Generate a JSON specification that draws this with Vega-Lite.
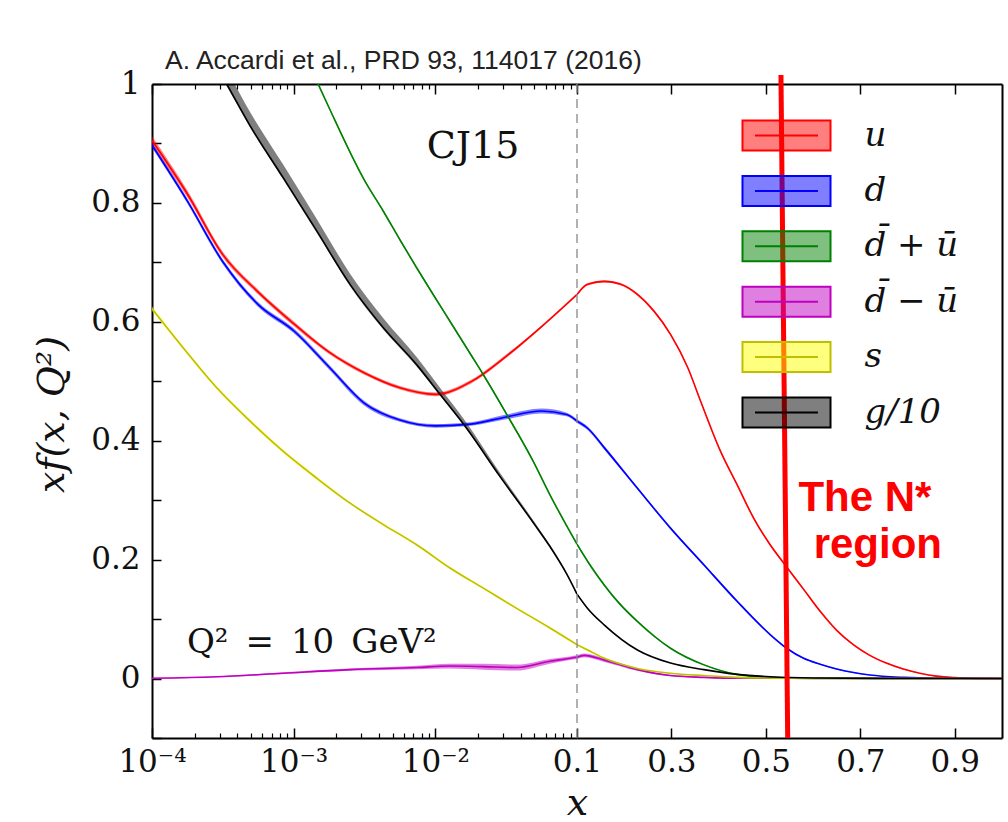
{
  "$schema": "https://vega.github.io/schema/vega-lite/v6.json",
  "background": "white",
  "padding": {"left": 33, "top": 47, "right": 4, "bottom": 0},
  "spacing": 0,
  "bounds": "flush",
  "resolve": {"scale": {"x": "independent", "y": "independent", "fill": "independent", "stroke": "independent"}},
  "datasets": {
    "L": [
      {"p":"u","x":0.0001,"y":0.905,"lo":0.898,"hi":0.912},
      {"p":"u","x":0.0001778,"y":0.815,"lo":0.809,"hi":0.821},
      {"p":"u","x":0.0003162,"y":0.713,"lo":0.708,"hi":0.718},
      {"p":"u","x":0.0005623,"y":0.65,"lo":0.646,"hi":0.654},
      {"p":"u","x":0.001,"y":0.597,"lo":0.593,"hi":0.601},
      {"p":"u","x":0.001778,"y":0.549,"lo":0.546,"hi":0.552},
      {"p":"u","x":0.003162,"y":0.514,"lo":0.511,"hi":0.517},
      {"p":"u","x":0.005623,"y":0.489,"lo":0.486,"hi":0.492},
      {"p":"u","x":0.01,"y":0.478,"lo":0.475,"hi":0.481},
      {"p":"u","x":0.01778,"y":0.499,"lo":0.496,"hi":0.502},
      {"p":"u","x":0.03162,"y":0.542,"lo":0.539,"hi":0.545},
      {"p":"u","x":0.05623,"y":0.592,"lo":0.59,"hi":0.594},
      {"p":"u","x":0.1,"y":0.646,"lo":0.644,"hi":0.648},
      {"p":"d","x":0.0001,"y":0.897,"lo":0.893,"hi":0.901},
      {"p":"d","x":0.0001778,"y":0.803,"lo":0.799,"hi":0.807},
      {"p":"d","x":0.0003162,"y":0.701,"lo":0.697,"hi":0.705},
      {"p":"d","x":0.0005623,"y":0.629,"lo":0.625,"hi":0.633},
      {"p":"d","x":0.001,"y":0.585,"lo":0.581,"hi":0.589},
      {"p":"d","x":0.001778,"y":0.524,"lo":0.52,"hi":0.528},
      {"p":"d","x":0.003162,"y":0.463,"lo":0.459,"hi":0.467},
      {"p":"d","x":0.005623,"y":0.435,"lo":0.432,"hi":0.438},
      {"p":"d","x":0.01,"y":0.425,"lo":0.422,"hi":0.428},
      {"p":"d","x":0.01778,"y":0.428,"lo":0.425,"hi":0.431},
      {"p":"d","x":0.03162,"y":0.44,"lo":0.436,"hi":0.444},
      {"p":"d","x":0.05623,"y":0.45,"lo":0.446,"hi":0.454},
      {"p":"d","x":0.08453,"y":0.444,"lo":0.441,"hi":0.447},
      {"p":"d","x":0.1,"y":0.433,"lo":0.43,"hi":0.436},
      {"p":"d\u0304 + \u016b","x":0.001,"y":1.09,"lo":1.088,"hi":1.092},
      {"p":"d\u0304 + \u016b","x":0.001455,"y":1.005,"lo":1.003,"hi":1.007},
      {"p":"d\u0304 + \u016b","x":0.001778,"y":0.96,"lo":0.958,"hi":0.962},
      {"p":"d\u0304 + \u016b","x":0.003162,"y":0.838,"lo":0.836,"hi":0.84},
      {"p":"d\u0304 + \u016b","x":0.004295,"y":0.786,"lo":0.784,"hi":0.788},
      {"p":"d\u0304 + \u016b","x":0.005623,"y":0.738,"lo":0.736,"hi":0.74},
      {"p":"d\u0304 + \u016b","x":0.007379,"y":0.691,"lo":0.689,"hi":0.693},
      {"p":"d\u0304 + \u016b","x":0.01,"y":0.64,"lo":0.638,"hi":0.642},
      {"p":"d\u0304 + \u016b","x":0.01268,"y":0.601,"lo":0.599,"hi":0.603},
      {"p":"d\u0304 + \u016b","x":0.01778,"y":0.545,"lo":0.543,"hi":0.547},
      {"p":"d\u0304 + \u016b","x":0.02183,"y":0.511,"lo":0.509,"hi":0.513},
      {"p":"d\u0304 + \u016b","x":0.03162,"y":0.446,"lo":0.444,"hi":0.448},
      {"p":"d\u0304 + \u016b","x":0.0492,"y":0.365,"lo":0.363,"hi":0.367},
      {"p":"d\u0304 + \u016b","x":0.06442,"y":0.309,"lo":0.307,"hi":0.311},
      {"p":"d\u0304 + \u016b","x":0.1,"y":0.226,"lo":0.224,"hi":0.228},
      {"p":"d\u0304 \u2212 \u016b","x":0.0001,"y":0.0005,"lo":-0.0005,"hi":0.0015},
      {"p":"d\u0304 \u2212 \u016b","x":0.0002864,"y":0.003,"lo":0.002,"hi":0.004},
      {"p":"d\u0304 \u2212 \u016b","x":0.0008453,"y":0.009,"lo":0.0075,"hi":0.0105},
      {"p":"d\u0304 \u2212 \u016b","x":0.0025,"y":0.015,"lo":0.013,"hi":0.017},
      {"p":"d\u0304 \u2212 \u016b","x":0.007379,"y":0.0185,"lo":0.0155,"hi":0.0215},
      {"p":"d\u0304 \u2212 \u016b","x":0.01268,"y":0.021,"lo":0.017,"hi":0.025},
      {"p":"d\u0304 \u2212 \u016b","x":0.02183,"y":0.02,"lo":0.015,"hi":0.025},
      {"p":"d\u0304 \u2212 \u016b","x":0.0375,"y":0.0185,"lo":0.0135,"hi":0.0235},
      {"p":"d\u0304 \u2212 \u016b","x":0.06442,"y":0.029,"lo":0.025,"hi":0.033},
      {"p":"d\u0304 \u2212 \u016b","x":0.08933,"y":0.034,"lo":0.031,"hi":0.037},
      {"p":"d\u0304 \u2212 \u016b","x":0.1,"y":0.036,"lo":0.033,"hi":0.039},
      {"p":"s","x":0.0001,"y":0.622,"lo":0.618,"hi":0.626},
      {"p":"s","x":0.0001663,"y":0.556,"lo":0.553,"hi":0.559},
      {"p":"s","x":0.0002864,"y":0.489,"lo":0.486,"hi":0.492},
      {"p":"s","x":0.000492,"y":0.433,"lo":0.43,"hi":0.436},
      {"p":"s","x":0.0008453,"y":0.382,"lo":0.379,"hi":0.385},
      {"p":"s","x":0.001455,"y":0.337,"lo":0.334,"hi":0.34},
      {"p":"s","x":0.0025,"y":0.295,"lo":0.293,"hi":0.297},
      {"p":"s","x":0.004295,"y":0.259,"lo":0.257,"hi":0.261},
      {"p":"s","x":0.007379,"y":0.225,"lo":0.223,"hi":0.227},
      {"p":"s","x":0.01268,"y":0.186,"lo":0.184,"hi":0.188},
      {"p":"s","x":0.02183,"y":0.152,"lo":0.15,"hi":0.154},
      {"p":"s","x":0.0375,"y":0.118,"lo":0.116,"hi":0.12},
      {"p":"s","x":0.06442,"y":0.085,"lo":0.083,"hi":0.087},
      {"p":"s","x":0.1,"y":0.057,"lo":0.055,"hi":0.059},
      {"p":"g/10","x":0.00025,"y":1.054,"lo":1.051,"hi":1.078},
      {"p":"g/10","x":0.0003365,"y":1.0,"lo":0.997,"hi":1.024},
      {"p":"g/10","x":0.000492,"y":0.93,"lo":0.927,"hi":0.953},
      {"p":"g/10","x":0.0008453,"y":0.842,"lo":0.839,"hi":0.864},
      {"p":"g/10","x":0.001455,"y":0.753,"lo":0.75,"hi":0.773},
      {"p":"g/10","x":0.0025,"y":0.663,"lo":0.66,"hi":0.681},
      {"p":"g/10","x":0.004295,"y":0.59,"lo":0.587,"hi":0.606},
      {"p":"g/10","x":0.007379,"y":0.528,"lo":0.525,"hi":0.541},
      {"p":"g/10","x":0.01079,"y":0.478,"lo":0.476,"hi":0.489},
      {"p":"g/10","x":0.01663,"y":0.421,"lo":0.419,"hi":0.43},
      {"p":"g/10","x":0.02858,"y":0.34,"lo":0.338,"hi":0.346},
      {"p":"g/10","x":0.0492,"y":0.262,"lo":0.261,"hi":0.266},
      {"p":"g/10","x":0.06442,"y":0.222,"lo":0.221,"hi":0.225},
      {"p":"g/10","x":0.08453,"y":0.176,"lo":0.175,"hi":0.178},
      {"p":"g/10","x":0.1,"y":0.142,"lo":0.141,"hi":0.144}
    ],
    "R": [
      {"p":"u","x":0.1,"y":0.646,"lo":0.644,"hi":0.648},
      {"p":"u","x":0.1225,"y":0.663,"lo":0.661,"hi":0.665},
      {"p":"u","x":0.158,"y":0.668,"lo":0.666,"hi":0.67},
      {"p":"u","x":0.193,"y":0.663,"lo":0.661,"hi":0.665},
      {"p":"u","x":0.228,"y":0.646,"lo":0.644,"hi":0.648},
      {"p":"u","x":0.263,"y":0.618,"lo":0.616,"hi":0.62},
      {"p":"u","x":0.298,"y":0.579,"lo":0.577,"hi":0.581},
      {"p":"u","x":0.334,"y":0.524,"lo":0.522,"hi":0.526},
      {"p":"u","x":0.362,"y":0.466,"lo":0.464,"hi":0.468},
      {"p":"u","x":0.404,"y":0.382,"lo":0.38,"hi":0.384},
      {"p":"u","x":0.439,"y":0.326,"lo":0.324,"hi":0.328},
      {"p":"u","x":0.474,"y":0.27,"lo":0.268,"hi":0.272},
      {"p":"u","x":0.509,"y":0.225,"lo":0.223,"hi":0.227},
      {"p":"u","x":0.537,"y":0.195,"lo":0.193,"hi":0.197},
      {"p":"u","x":0.58,"y":0.15,"lo":0.148,"hi":0.152},
      {"p":"u","x":0.615,"y":0.113,"lo":0.111,"hi":0.115},
      {"p":"u","x":0.65,"y":0.081,"lo":0.08,"hi":0.082},
      {"p":"u","x":0.685,"y":0.057,"lo":0.056,"hi":0.058},
      {"p":"u","x":0.72,"y":0.039,"lo":0.038,"hi":0.04},
      {"p":"u","x":0.755,"y":0.026,"lo":0.025,"hi":0.027},
      {"p":"u","x":0.791,"y":0.016,"lo":0.015,"hi":0.017},
      {"p":"u","x":0.826,"y":0.009,"lo":0.0085,"hi":0.0095},
      {"p":"u","x":0.861,"y":0.004,"lo":0.0035,"hi":0.0045},
      {"p":"u","x":0.9,"y":0.0015,"lo":0.0015,"hi":0.0015},
      {"p":"u","x":0.95,"y":0.0003,"lo":0.0003,"hi":0.0003},
      {"p":"u","x":1.0,"y":0,"lo":0,"hi":0},
      {"p":"d","x":0.1,"y":0.433,"lo":0.43,"hi":0.436},
      {"p":"d","x":0.1225,"y":0.421,"lo":0.418,"hi":0.424},
      {"p":"d","x":0.158,"y":0.388,"lo":0.385,"hi":0.391},
      {"p":"d","x":0.228,"y":0.32,"lo":0.318,"hi":0.322},
      {"p":"d","x":0.298,"y":0.253,"lo":0.251,"hi":0.255},
      {"p":"d","x":0.369,"y":0.191,"lo":0.189,"hi":0.193},
      {"p":"d","x":0.439,"y":0.13,"lo":0.128,"hi":0.132},
      {"p":"d","x":0.509,"y":0.074,"lo":0.073,"hi":0.075},
      {"p":"d","x":0.544,"y":0.051,"lo":0.05,"hi":0.052},
      {"p":"d","x":0.58,"y":0.034,"lo":0.033,"hi":0.035},
      {"p":"d","x":0.615,"y":0.024,"lo":0.023,"hi":0.025},
      {"p":"d","x":0.65,"y":0.016,"lo":0.015,"hi":0.017},
      {"p":"d","x":0.72,"y":0.006,"lo":0.0055,"hi":0.0065},
      {"p":"d","x":0.791,"y":0.002,"lo":0.002,"hi":0.002},
      {"p":"d","x":0.86,"y":0.0005,"lo":0.0005,"hi":0.0005},
      {"p":"d","x":1.0,"y":0,"lo":0,"hi":0},
      {"p":"d\u0304 + \u016b","x":0.1,"y":0.226,"lo":0.224,"hi":0.228},
      {"p":"d\u0304 + \u016b","x":0.13,"y":0.188,"lo":0.186,"hi":0.19},
      {"p":"d\u0304 + \u016b","x":0.158,"y":0.157,"lo":0.155,"hi":0.159},
      {"p":"d\u0304 + \u016b","x":0.19,"y":0.126,"lo":0.124,"hi":0.128},
      {"p":"d\u0304 + \u016b","x":0.228,"y":0.096,"lo":0.094,"hi":0.098},
      {"p":"d\u0304 + \u016b","x":0.298,"y":0.051,"lo":0.05,"hi":0.052},
      {"p":"d\u0304 + \u016b","x":0.369,"y":0.023,"lo":0.022,"hi":0.024},
      {"p":"d\u0304 + \u016b","x":0.439,"y":0.007,"lo":0.0065,"hi":0.0075},
      {"p":"d\u0304 + \u016b","x":0.509,"y":0.002,"lo":0.002,"hi":0.002},
      {"p":"d\u0304 + \u016b","x":0.6,"y":0.0003,"lo":0.0003,"hi":0.0003},
      {"p":"d\u0304 + \u016b","x":1.0,"y":0,"lo":0,"hi":0},
      {"p":"d\u0304 \u2212 \u016b","x":0.1,"y":0.036,"lo":0.033,"hi":0.039},
      {"p":"d\u0304 \u2212 \u016b","x":0.1154,"y":0.039,"lo":0.036,"hi":0.042},
      {"p":"d\u0304 \u2212 \u016b","x":0.158,"y":0.031,"lo":0.028,"hi":0.034},
      {"p":"d\u0304 \u2212 \u016b","x":0.228,"y":0.015,"lo":0.013,"hi":0.017},
      {"p":"d\u0304 \u2212 \u016b","x":0.298,"y":0.005,"lo":0.004,"hi":0.006},
      {"p":"d\u0304 \u2212 \u016b","x":0.369,"y":0.002,"lo":0.001,"hi":0.003},
      {"p":"d\u0304 \u2212 \u016b","x":0.45,"y":0.0005,"lo":0.0005,"hi":0.0005},
      {"p":"d\u0304 \u2212 \u016b","x":1.0,"y":0,"lo":0,"hi":0},
      {"p":"s","x":0.1,"y":0.057,"lo":0.055,"hi":0.059},
      {"p":"s","x":0.1225,"y":0.048,"lo":0.046,"hi":0.05},
      {"p":"s","x":0.158,"y":0.034,"lo":0.033,"hi":0.035},
      {"p":"s","x":0.228,"y":0.017,"lo":0.016,"hi":0.018},
      {"p":"s","x":0.298,"y":0.009,"lo":0.0085,"hi":0.0095},
      {"p":"s","x":0.369,"y":0.005,"lo":0.005,"hi":0.005},
      {"p":"s","x":0.439,"y":0.002,"lo":0.002,"hi":0.002},
      {"p":"s","x":0.55,"y":0.0005,"lo":0.0005,"hi":0.0005},
      {"p":"s","x":1.0,"y":0,"lo":0,"hi":0},
      {"p":"g/10","x":0.1,"y":0.142,"lo":0.141,"hi":0.144},
      {"p":"g/10","x":0.1225,"y":0.118,"lo":0.117,"hi":0.119},
      {"p":"g/10","x":0.158,"y":0.09,"lo":0.089,"hi":0.091},
      {"p":"g/10","x":0.228,"y":0.048,"lo":0.048,"hi":0.048},
      {"p":"g/10","x":0.298,"y":0.026,"lo":0.026,"hi":0.026},
      {"p":"g/10","x":0.369,"y":0.015,"lo":0.015,"hi":0.015},
      {"p":"g/10","x":0.439,"y":0.007,"lo":0.007,"hi":0.007},
      {"p":"g/10","x":0.509,"y":0.003,"lo":0.003,"hi":0.003},
      {"p":"g/10","x":0.6,"y":0.001,"lo":0.001,"hi":0.001},
      {"p":"g/10","x":0.8,"y":0.0002,"lo":0.0002,"hi":0.0002},
      {"p":"g/10","x":1.0,"y":0,"lo":0,"hi":0}
    ]
  },
  "hconcat": [
    {
      "width": 425,
      "height": 654,
      "data": {"name": "L"},
      "resolve": {"axis": {"x": "independent"}},
      "layer": [
        {
          "mark": {"type": "area", "fillOpacity": 0.5, "interpolate": "monotone", "clip": true},
          "encoding": {
            "x": {"field": "x", "type": "quantitative",
              "scale": {"type": "log", "domain": [0.0001, 0.1], "nice": false},
              "axis": {"orient": "bottom", "values": [0.0001, 0.001, 0.01, 0.1],
                "labelExpr": "datum.value < 0.00015 ? '10⁻⁴' : datum.value < 0.0015 ? '10⁻³' : datum.value < 0.015 ? '10⁻²' : '0.1'",
                "tickSize": -10, "labelPadding": 19,
                "title": "x", "titleX": 425, "titleY": 76, "titleAlign": "center", "titleBaseline": "alphabetic", "titleAngle": 0,
                "titleFont": "DejaVu Serif", "titleFontStyle": "italic", "titleFontWeight": "normal", "titleFontSize": 38}},
            "y": {"field": "lo", "type": "quantitative",
              "scale": {"domain": [-0.1, 1], "nice": false, "zero": false},
              "axis": {"orient": "left", "values": [-0.1, 0, 0.1, 0.2, 0.3, 0.4, 0.5, 0.6, 0.7, 0.8, 0.9, 1],
                "labelExpr": "round(datum.value*10) % 2 == 0 ? format(datum.value, '.1~f') : ''",
                "tickSize": -9, "labelPadding": 21,
                "title": "xf(x, Q²)", "titleX": -100, "titleY": 330, "titleAngle": -90, "titleAlign": "center", "titleBaseline": "middle",
                "titleFont": "DejaVu Serif", "titleFontStyle": "italic", "titleFontWeight": "normal", "titleFontSize": 38}},
            "y2": {"field": "hi"},
            "fill": {"field": "p", "type": "nominal",
              "scale": {"domain": ["u", "d", "d\u0304 + \u016b", "d\u0304 \u2212 \u016b", "s", "g/10"],
                "range": ["#ff0000", "#0000ff", "#008000", "#bf00bf", "#ffff00", "#000000"]},
              "legend": null}
          }
        },
        {
          "mark": {"type": "line", "strokeWidth": 1.6, "interpolate": "monotone", "clip": true},
          "encoding": {
            "x": {"field": "x", "type": "quantitative",
              "axis": {"orient": "top", "values": [0.0001, 0.001, 0.01, 0.1], "labels": false, "tickSize": -10, "title": null}},
            "y": {"field": "y", "type": "quantitative"},
            "stroke": {"field": "p", "type": "nominal",
              "scale": {"domain": ["u", "d", "d\u0304 + \u016b", "d\u0304 \u2212 \u016b", "s", "g/10"],
                "range": ["#ff0000", "#0000ff", "#008000", "#bf00bf", "#bfbf00", "#000000"]},
              "legend": null}
          }
        },
        {
          "data": {"values": [{}]},
          "mark": {"type": "text", "font": "DejaVu Serif", "fontSize": 38, "align": "center", "baseline": "alphabetic", "color": "#111"},
          "encoding": {
            "x": {"datum": 0.01845, "type": "quantitative",
              "axis": {"orient": "bottom", "values": [0.0002, 0.0003, 0.0004, 0.0005, 0.0006, 0.0007, 0.0008, 0.0009, 0.002, 0.003, 0.004, 0.005, 0.006, 0.007, 0.008, 0.009, 0.02, 0.03, 0.04, 0.05, 0.06, 0.07, 0.08, 0.09],
                "labels": false, "domain": false, "tickSize": -5, "tickWidth": 1.2, "title": null}},
            "y": {"datum": 0.8754, "type": "quantitative"},
            "text": {"value": "CJ15"}
          }
        },
        {
          "data": {"values": [{}]},
          "mark": {"type": "text", "font": "DejaVu Serif", "fontSize": 34, "align": "left", "baseline": "alphabetic", "color": "#111"},
          "encoding": {
            "x": {"datum": 0.0001766, "type": "quantitative",
              "axis": {"orient": "top", "values": [0.0002, 0.0003, 0.0004, 0.0005, 0.0006, 0.0007, 0.0008, 0.0009, 0.002, 0.003, 0.004, 0.005, 0.006, 0.007, 0.008, 0.009, 0.02, 0.03, 0.04, 0.05, 0.06, 0.07, 0.08, 0.09],
                "labels": false, "domain": false, "tickSize": -5, "tickWidth": 1.2, "title": null}},
            "y": {"datum": 0.0426, "type": "quantitative"},
            "text": {"value": "Q²\u2002=\u200210\u2002GeV²"}
          }
        },
        {
          "data": {"values": [{}]},
          "mark": {"type": "text", "font": "Liberation Sans", "fontSize": 26.5, "align": "left", "baseline": "alphabetic", "color": "#222"},
          "encoding": {
            "x": {"datum": 0.0001235, "type": "quantitative", "axis": null},
            "y": {"datum": 1.0253, "type": "quantitative"},
            "text": {"value": "A. Accardi et al., PRD 93, 114017 (2016)"}
          }
        }
      ]
    },
    {
      "width": 425,
      "height": 654,
      "data": {"name": "R"},
      "resolve": {"axis": {"x": "independent"}},
      "layer": [
        {
          "mark": {"type": "area", "fillOpacity": 0.5, "interpolate": "monotone", "clip": true},
          "encoding": {
            "x": {"field": "x", "type": "quantitative",
              "scale": {"domain": [0.1, 1], "nice": false, "zero": false},
              "axis": {"orient": "bottom", "values": [0.3, 0.5, 0.7, 0.9], "format": ".1f", "tickSize": -10, "labelPadding": 19, "title": null}},
            "y": {"field": "lo", "type": "quantitative",
              "scale": {"domain": [-0.1, 1], "nice": false, "zero": false},
              "axis": {"orient": "right", "labels": false, "ticks": false, "domain": true, "title": null}},
            "y2": {"field": "hi"},
            "fill": {"field": "p", "type": "nominal",
              "scale": {"domain": ["u", "d", "d\u0304 + \u016b", "d\u0304 \u2212 \u016b", "s", "g/10"],
                "range": ["#ff0000", "#0000ff", "#008000", "#bf00bf", "#ffff00", "#000000"]},
              "legend": {"orient": "none", "legendX": 181.5, "legendY": 23.5, "title": null,
                "symbolType": "M-1.63,-0.556H1.63V0.556H-1.63ZM-1.167,0H1.167", "symbolSize": 2916, "symbolStrokeWidth": 2,
                "labelFont": "DejaVu Serif", "labelFontStyle": "italic", "labelFontSize": 34, "labelOffset": 50,
                "rowPadding": 7.4, "padding": 0, "labelLimit": 400, "labelColor": "#111",
                "encode": {"symbols": {"update": {"fillOpacity": {"value": 0.5}, "strokeOpacity": {"value": 1}}}}}}
          }
        },
        {
          "mark": {"type": "line", "strokeWidth": 1.6, "interpolate": "monotone", "clip": true},
          "encoding": {
            "x": {"field": "x", "type": "quantitative",
              "axis": {"orient": "top", "values": [0.3, 0.5, 0.7, 0.9], "labels": false, "tickSize": -10, "title": null}},
            "y": {"field": "y", "type": "quantitative"},
            "stroke": {"field": "p", "type": "nominal",
              "scale": {"domain": ["u", "d", "d\u0304 + \u016b", "d\u0304 \u2212 \u016b", "s", "g/10"],
                "range": ["#ff0000", "#0000ff", "#008000", "#bf00bf", "#bfbf00", "#000000"]},
              "legend": {"orient": "none", "legendX": 181.5, "legendY": 23.5, "title": null,
                "symbolType": "M-1.63,-0.556H1.63V0.556H-1.63ZM-1.167,0H1.167", "symbolSize": 2916, "symbolStrokeWidth": 2,
                "labelFont": "DejaVu Serif", "labelFontStyle": "italic", "labelFontSize": 34, "labelOffset": 50,
                "rowPadding": 7.4, "padding": 0, "labelLimit": 400, "labelColor": "#111",
                "encode": {"symbols": {"update": {"fillOpacity": {"value": 0.5}, "strokeOpacity": {"value": 1}}}}}}
          }
        },
        {
          "data": {"values": [{}]},
          "mark": {"type": "rule", "color": "#888888", "strokeWidth": 1.3, "strokeDash": [9, 6]},
          "encoding": {"x": {"datum": 0.1, "type": "quantitative", "axis": null}}
        },
        {
          "data": {"values": [{}]},
          "mark": {"type": "rule", "color": "#ff0000", "strokeWidth": 5},
          "encoding": {
            "x": {"datum": 0.5319, "type": "quantitative", "axis": null},
            "x2": {"datum": 0.5462},
            "y": {"datum": 1.015, "type": "quantitative"},
            "y2": {"datum": -0.1}
          }
        },
        {
          "data": {"values": [{}]},
          "mark": {"type": "text", "font": "Liberation Sans", "fontWeight": "bold", "fontSize": 42, "align": "center", "baseline": "alphabetic", "color": "#ff0000"},
          "encoding": {
            "x": {"datum": 0.7097, "type": "quantitative", "axis": null},
            "y": {"datum": 0.281, "type": "quantitative"},
            "text": {"value": "The N*"}
          }
        },
        {
          "data": {"values": [{}]},
          "mark": {"type": "text", "font": "Liberation Sans", "fontWeight": "bold", "fontSize": 42, "align": "center", "baseline": "alphabetic", "color": "#ff0000"},
          "encoding": {
            "x": {"datum": 0.737, "type": "quantitative", "axis": null},
            "y": {"datum": 0.202, "type": "quantitative"},
            "text": {"value": "region"}
          }
        }
      ]
    }
  ],
  "config": {
    "font": "DejaVu Serif",
    "view": {"stroke": null},
    "axis": {
      "grid": false, "labelFont": "DejaVu Serif", "labelFontSize": 31, "labelColor": "#111",
      "tickColor": "#000", "tickWidth": 1.5, "domainColor": "#000", "domainWidth": 2,
      "labelFlush": false, "labelOverlap": false, "labelBound": false, "titleColor": "#111", "zindex": 1
    }
  }
}
